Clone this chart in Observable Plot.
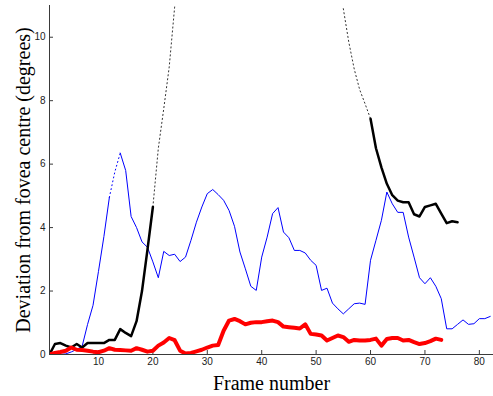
<!DOCTYPE html>
<html><head><meta charset="utf-8">
<script src="https://cdn.jsdelivr.net/npm/d3@7"></script>
<script src="https://cdn.jsdelivr.net/npm/@observablehq/plot@0.6"></script>
<style>body{margin:0;background:#fff}</style>
</head><body><div id="chart"></div>
<script>
// Tick labels
const xTicks = [10, 20, 30, 40, 50, 60, 70, 80];
const yTicks = [0, 2, 4, 6, 8, 10];
const xLabel = "Frame number";
const yLabel = "Deviation from fovea centre (degrees)";

// Blue series, frames 1–82 (null = gap, drawn dotted)
const blueValues = [0,0,0,0.02,0.08,0.16,0.26,0.95,1.55,2.62,
  3.72,4.95,null,6.35,5.8,4.35,4.0,3.55,3.38,2.92,
  2.42,3.25,3.12,3.16,2.93,3.07,3.6,4.17,4.65,5.07,
  5.2,5.04,4.86,4.54,4.04,3.23,2.7,2.15,2.02,3.07,
  3.7,4.44,4.63,3.86,3.68,3.28,3.28,3.2,2.97,2.81,
  2.02,2.09,1.62,1.44,1.28,1.44,1.6,1.62,1.58,2.97,
  3.6,4.23,5.12,4.75,4.48,4.48,3.7,3.07,2.42,2.23,
  2.42,2.15,1.76,0.81,0.81,0.95,1.09,0.95,0.97,1.13,
  1.13,1.2];
const blueDottedFrames = [12, 13, 14];
const blueDottedValues = [4.95, 5.75, 6.35];

// Black series: frames 1–20 and 60–76
const blackEarlyStart = 1;
const blackEarly = [0,0.33,0.36,0.28,0.22,0.33,0.22,0.36,0.36,0.36,
  0.36,0.46,0.46,0.8,0.68,0.58,1.05,2.0,3.3,4.65];
const blackLateStart = 60;
const blackLate = [7.43,6.5,5.9,5.38,5.02,4.85,4.8,4.8,4.42,4.35,
  4.65,4.7,4.75,4.44,4.14,4.2,4.17];
// Black dotted (off-scale) segments
const blackDotLeftFrames = [20, 21, 22, 23, 24, 25];
const blackDotLeftValues = [4.65, 6.5, 7.75, 9.06, 10.95, 12.9];
const blackDotRightFrames = [55, 56, 57, 58, 59, 60];
const blackDotRightValues = [10.9, 9.85, 9.0, 8.35, 7.9, 7.43];

// Red series, frames 1–73
const redValues = [0,0.05,0.08,0.12,0.22,0.15,0.14,0.12,0.09,0.07,
  0.12,0.2,0.15,0.14,0.13,0.12,0.2,0.15,0.09,0.12,
  0.28,0.38,0.52,0.45,0.12,0.03,0.05,0.1,0.15,0.22,
  0.28,0.3,0.75,1.07,1.12,1.05,0.95,1.0,1.02,1.02,
  1.05,1.07,1.02,0.88,0.86,0.84,0.82,0.95,0.65,0.63,
  0.6,0.44,0.52,0.6,0.55,0.4,0.46,0.44,0.44,0.46,
  0.5,0.28,0.49,0.52,0.52,0.44,0.46,0.39,0.33,0.36,
  0.42,0.5,0.46];

const seq = (vals, start) => vals.map((v, i) => ({f: start + i, v}));
const pairs = (fs, vs) => fs.map((f, i) => ({f, v: vs[i]}));

const blue = seq(blueValues, 1);
const blueDot = pairs(blueDottedFrames, blueDottedValues);
const blackA = seq(blackEarly, blackEarlyStart);
const blackB = seq(blackLate, blackLateStart);
const blackDotA = pairs(blackDotLeftFrames, blackDotLeftValues);
const blackDotB = pairs(blackDotRightFrames, blackDotRightValues);
const red = seq(redValues, 1);

const axisColor = "#3a3a3a";
const serif = "'Liberation Serif', 'Times New Roman', serif";
const chart = Plot.plot({
  width: 493, height: 396,
  marginLeft: 49, marginRight: 0, marginTop: 5, marginBottom: 42,
  x: {domain: [1, 82.6]},
  y: {domain: [0, 11]},
  style: {fontFamily: "'Liberation Sans', Arial, sans-serif", fontSize: "10px", color: "#222", background: "#fff"},
  marks: [
    Plot.axisX(xTicks, {tickSize: 0, tickPadding: 3, label: null, fontSize: 10}),
    Plot.axisY(yTicks, {tickSize: 0, tickPadding: 4, label: null, fontSize: 10}),
    Plot.ruleX(xTicks, {y1: 0, y2: 0, insetTop: -4, stroke: axisColor}),
    Plot.ruleY(yTicks, {x1: 1, x2: 1, insetRight: -4, stroke: axisColor}),
    Plot.line(blue, {x: "f", y: "v", stroke: "#0000ff", strokeWidth: 1, clip: true}),
    Plot.line(blueDot, {x: "f", y: "v", stroke: "#0000ff", strokeWidth: 1, strokeDasharray: "1,3", clip: true}),
    Plot.line(blackDotA, {x: "f", y: "v", stroke: "#333", strokeWidth: 1, strokeDasharray: "1.2,2.8", clip: true}),
    Plot.line(blackDotB, {x: "f", y: "v", stroke: "#333", strokeWidth: 1, strokeDasharray: "1.2,2.8", clip: true}),
    Plot.line(blackA, {x: "f", y: "v", stroke: "#000", strokeWidth: 2.5, clip: true}),
    Plot.line(blackB, {x: "f", y: "v", stroke: "#000", strokeWidth: 2.5, clip: true}),
    Plot.line(red, {x: "f", y: "v", stroke: "#ff0000", strokeWidth: 4, clip: true}),
    Plot.ruleY([0], {stroke: axisColor}),
    Plot.ruleX([1], {stroke: axisColor}),
    Plot.text([xLabel], {frameAnchor: "bottom", dy: 29, textAnchor: "middle", lineAnchor: "middle", fontSize: 20, fontFamily: serif, fill: "#000"}),
    Plot.text([yLabel], {frameAnchor: "left", dx: -26, rotate: -90, textAnchor: "middle", lineAnchor: "middle", fontSize: 20, fontFamily: serif, fill: "#000"})
  ]
});
document.getElementById("chart").appendChild(chart);
</script>
</body></html>
